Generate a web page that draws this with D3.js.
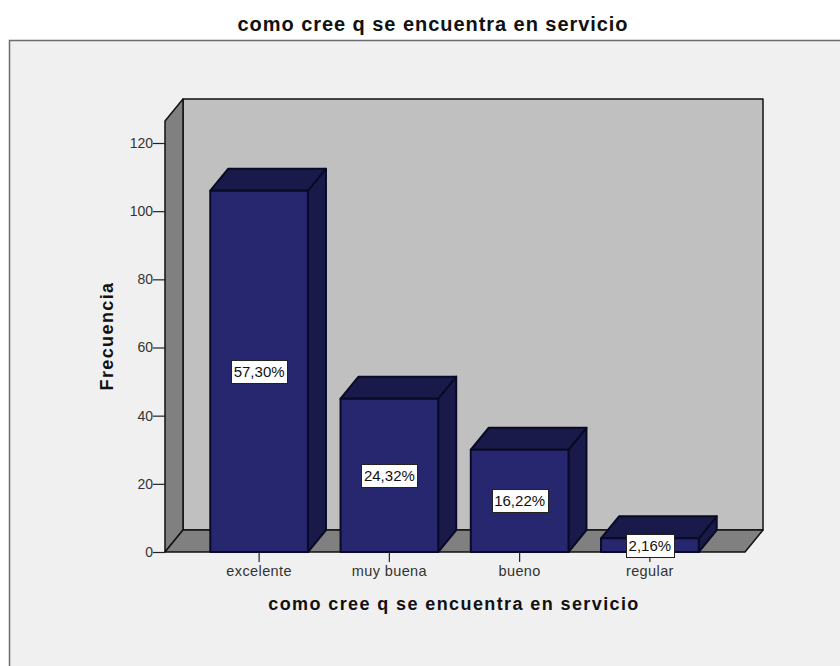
<!DOCTYPE html>
<html><head><meta charset="utf-8">
<script src="https://cdn.jsdelivr.net/npm/d3@7/dist/d3.min.js"></script>
<style>html,body{margin:0;padding:0;background:#fff}svg{display:block}text{font-family:"Liberation Sans",Arial,sans-serif}</style>
</head><body><svg id="c" width="840" height="666"></svg>
<script>
const titleText = "como cree q se encuentra en servicio";
const yTitle = "Frecuencia";
const categories = ["excelente","muy buena","bueno","regular"];
const counts = [106,45,30,4];
const percents = ["57,30%","24,32%","16,22%","2,16%"];
const yTicks = [0,20,40,60,80,100,120];

const svg = d3.select("#c");
const y = d3.scaleLinear().domain([0,120]).range([552,143]);
const x = d3.scaleBand().domain(categories).range([194,715]).paddingInner(0.25).paddingOuter(0.125);
const dx = 18, dy = -22;
const xL = 165, xR = 745, y0 = y(0), yTop = 121;
const edge = "#111";
const pts = a => a.map(p=>p.join(",")).join(" ");
const poly = (a,fill,stroke=edge,w=1.5)=>svg.append("polygon").attr("points",pts(a)).attr("fill",fill).attr("stroke",stroke).attr("stroke-width",w).attr("stroke-linejoin","round");

svg.append("rect").attr("x",9.5).attr("y",40.5).attr("width",840).attr("height",640).attr("fill","#f0f0f0").attr("stroke","#6e6e6e").attr("stroke-width",1.5);
svg.append("text").attr("x",433).attr("y",31).attr("text-anchor","middle").attr("font-size",20).attr("font-weight","bold").attr("letter-spacing",0.95).attr("fill","#111").text(titleText);

// walls
poly([[xL+dx,yTop+dy],[xR+dx,yTop+dy],[xR+dx,y0+dy],[xL+dx,y0+dy]],"#c0c0c0");
poly([[xL,yTop],[xL+dx,yTop+dy],[xL+dx,y0+dy],[xL,y0]],"#808080");
poly([[xL,y0],[xL+dx,y0+dy],[xR+dx,y0+dy],[xR,y0]],"#808080");

// bars
const frontFill="#26276f", topFill="#1a1a4a", sideFill="#1a1a4a", barEdge="#0a0a26";
categories.forEach((c,i)=>{
  const l=x(c), r=l+x.bandwidth(), t=y(counts[i]);
  poly([[r,t],[r+dx,t+dy],[r+dx,y0+dy],[r,y0]],sideFill,barEdge,2);
  poly([[l,t],[l+dx,t+dy],[r+dx,t+dy],[r,t]],topFill,barEdge,2);
  poly([[l,t],[r,t],[r,y0],[l,y0]],frontFill,barEdge,2);
});

// axes
const yAxis = d3.axisLeft(y).tickValues(yTicks).tickSize(12).tickPadding(0).tickFormat(d3.format("d"));
const gy = svg.append("g").attr("transform",`translate(${xL},0)`).call(yAxis);
gy.select(".domain").remove();
gy.selectAll("line").attr("stroke","#222").attr("stroke-width",1.2);
gy.selectAll("text").attr("font-size",14).attr("fill","#333").style("font-family",'"Liberation Sans",Arial,sans-serif');
const xAxis = d3.axisBottom(x).tickSize(10).tickPadding(4);
const gx = svg.append("g").attr("transform",`translate(0,${y0})`).call(xAxis);
gx.select(".domain").remove();
gx.selectAll("line").attr("stroke","#222").attr("stroke-width",1.2);
gx.selectAll("text").attr("font-size",14.5).attr("letter-spacing",0.4).attr("fill","#333").style("font-family",'"Liberation Sans",Arial,sans-serif');

svg.append("text").attr("transform","translate(113,336) rotate(-90)").attr("text-anchor","middle").attr("font-size",18).attr("font-weight","bold").attr("letter-spacing",1.4).attr("fill","#111").text(yTitle);
svg.append("text").attr("x",454).attr("y",610).attr("text-anchor","middle").attr("font-size",18).attr("font-weight","bold").attr("letter-spacing",1.4).attr("fill","#111").text(titleText);

// labels
categories.forEach((c,i)=>{
  const cx=x(c)+x.bandwidth()/2, cy=(y(counts[i])+y0)/2;
  const ly = i===3 ? 545 : cy;
  const w = i===3?48:56, h=23;
  svg.append("rect").attr("x",Math.round(cx-w/2)+.5).attr("y",Math.round(ly-h/2)+.5).attr("width",w).attr("height",h).attr("fill","#fff").attr("stroke","#222").attr("stroke-width",1);
  svg.append("text").attr("x",cx).attr("y",ly+5.5).attr("text-anchor","middle").attr("font-size",15).attr("fill","#111").text(percents[i]);
});
</script></body></html>
